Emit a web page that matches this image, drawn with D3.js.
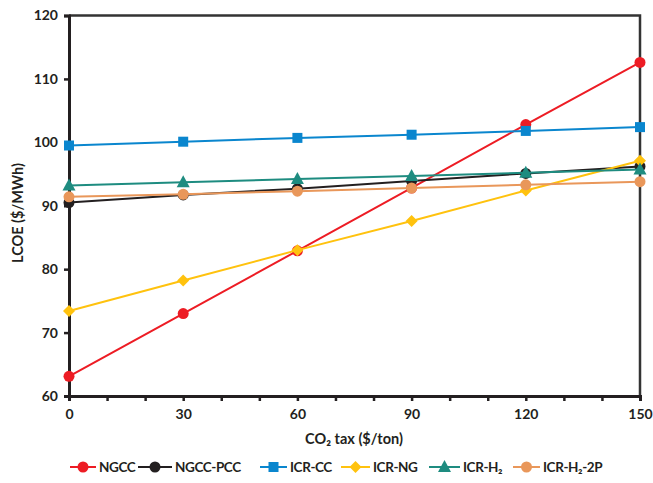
<!DOCTYPE html>
<html><head><meta charset="utf-8">
<script src="https://cdn.jsdelivr.net/npm/d3@7"></script>
<style>
html,body{margin:0;padding:0;background:#fff;}
svg{display:block;font-family:Lato,"Open Sans",sans-serif;font-weight:700;}
</style></head>
<body><svg id="c" width="653" height="483"></svg>
<script>
const taxes = [0, 30, 60, 90, 120, 150];
const seriesNames = ["NGCC", "NGCC-PCC", "ICR-CC", "ICR-NG", "ICR-H₂", "ICR-H₂-2P"];
const ngcc    = [63.1, 73.0, 82.9, 92.8, 102.8, 112.6];
const ngccPcc = [90.5, 91.7, 92.7, 93.9, 95.1, 96.2];
const icrCc   = [99.5, 100.1, 100.7, 101.2, 101.8, 102.4];
const icrNg   = [73.4, 78.2, 83.0, 87.6, 92.4, 97.1];
const icrH2   = [93.2, 93.7, 94.2, 94.7, 95.2, 95.7];
const icrH22p = [91.4, 91.8, 92.3, 92.8, 93.3, 93.8];
const yTicks = [60, 70, 80, 90, 100, 110, 120];
const xTicks = [0, 30, 60, 90, 120, 150];
const xMinor = d3.range(0, 151, 10);

const colors = ["#ED1C24", "#231F20", "#0A86CE", "#FFC20E", "#1E8C80", "#E9975A"];
const shapes = ["circle", "circle", "square", "diamond", "triangle", "circle"];
const allValues = [ngcc, ngccPcc, icrCc, icrNg, icrH2, icrH22p];

const svg = d3.select("#c");
const L = 69, R = 640, T = 15.5, B = 396;
const x = d3.scaleLinear().domain([0, 150]).range([L, R]);
const y = d3.scaleLinear().domain([60, 120]).range([B, T]);
const axisColor = "#231F20";

// frame top/right
svg.append("path").attr("d", `M${L},${T}H${R}V${B}`).attr("fill", "none")
  .attr("stroke", "#333").attr("stroke-width", 2.5);

// y axis
const ya = svg.append("g").attr("transform", `translate(${L},0)`)
  .call(d3.axisLeft(y).tickValues(yTicks).tickSize(5).tickPadding(6).tickFormat(d3.format("d")));
ya.select(".domain").attr("stroke", axisColor).attr("stroke-width", 3);
ya.selectAll(".tick line").attr("stroke", axisColor).attr("stroke-width", 2.5);
ya.selectAll(".tick text").attr("font-size", 14).attr("font-weight", 700).attr("fill", "#231F20")
  .attr("font-family", "Lato");

// x axis minor ticks + labels
const xa = svg.append("g").attr("transform", `translate(0,${B})`)
  .call(d3.axisBottom(x).tickValues(xMinor).tickSize(5).tickPadding(8)
    .tickFormat(d => xTicks.includes(d) ? d : ""));
xa.select(".domain").attr("stroke", axisColor).attr("stroke-width", 3);
xa.selectAll(".tick line").attr("stroke", axisColor).attr("stroke-width", 2.5);
xa.selectAll(".tick text").attr("font-size", 14).attr("font-weight", 700).attr("fill", "#231F20")
  .attr("font-family", "Lato");

// axis titles
svg.append("text").attr("x", 354).attr("y", 444).attr("text-anchor", "middle")
  .attr("font-size", 14.5).attr("fill", "#231F20").text("CO₂ tax ($/ton)");
svg.append("text").attr("transform", "translate(23,213) rotate(-90)").attr("text-anchor", "middle")
  .attr("font-size", 14.5).attr("fill", "#231F20").text("LCOE ($/MWh)");

function marker(g, shape, color, cx, cy) {
  if (shape === "circle") {
    g.append("circle").attr("cx", cx).attr("cy", cy).attr("r", 5.5).attr("fill", color);
  } else if (shape === "square") {
    g.append("rect").attr("x", cx - 5).attr("y", cy - 5).attr("width", 10).attr("height", 10).attr("fill", color);
  } else if (shape === "diamond") {
    g.append("path").attr("d", `M${cx},${cy-6}L${cx+6},${cy}L${cx},${cy+6}L${cx-6},${cy}Z`).attr("fill", color);
  } else if (shape === "triangle") {
    g.append("path").attr("d", `M${cx},${cy-7}L${cx+6.5},${cy+5}L${cx-6.5},${cy+5}Z`).attr("fill", color);
  }
}

const line = d3.line().x((d, i) => x(taxes[i])).y(d => y(d));
allValues.forEach((vals, si) => {
  const g = svg.append("g");
  g.append("path").attr("d", line(vals)).attr("fill", "none")
    .attr("stroke", colors[si]).attr("stroke-width", 2);
  vals.forEach((v, i) => marker(g, shapes[si], colors[si], x(taxes[i]), y(v)));
});

// legend
const legendX = [70, 138, 260, 341, 429, 513];
const legendW = [26, 34, 27, 29, 31, 27];
const ly = 467;
seriesNames.forEach((name, si) => {
  const g = svg.append("g");
  const x0 = legendX[si], w = legendW[si];
  g.append("line").attr("x1", x0).attr("x2", x0 + w).attr("y1", ly).attr("y2", ly)
    .attr("stroke", colors[si]).attr("stroke-width", 2);
  marker(g, shapes[si], colors[si], x0 + w / 2, ly);
  g.append("text").attr("x", x0 + w + 3).attr("y", ly + 5).attr("font-size", 13.5)
    .attr("letter-spacing", -0.4).attr("fill", "#231F20").text(name);
});
</script></body></html>
